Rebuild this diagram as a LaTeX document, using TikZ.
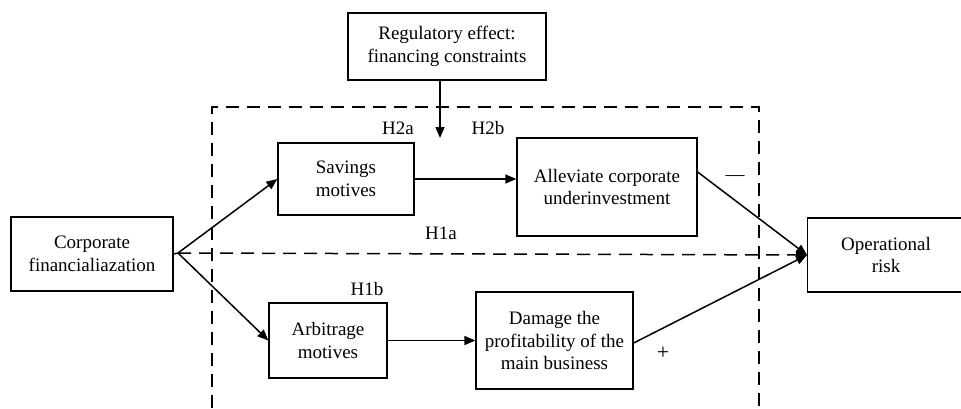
\documentclass[tikz,border=0pt]{standalone}
\usepackage{fontspec}
\setmainfont{Liberation Serif}
\usetikzlibrary{arrows.meta}
\begin{document}
\begin{tikzpicture}[x=1pt,y=-1pt,
  box/.style={draw,line width=1.3pt,align=center,font=\fontsize{19}{22.5}\selectfont,inner sep=0pt},
  arr/.style={line width=1.5pt,-{Triangle[length=11pt,width=9pt]}},
  lbl/.style={font=\fontsize{19}{22}\selectfont,inner sep=0pt},
  dsh/.style={line width=1.2pt,dash pattern=on 13pt off 8pt}]
\useasboundingbox (0,0) rectangle (961,408);
% dashed frame (open at bottom)
\draw[dsh] (212,408) -- (212,107) -- (759,107) -- (759,408);
% boxes
\node[box,minimum width=198pt,minimum height=67pt] (reg) at (447,46.5) {Regulatory effect:\\financing constraints};
\node[box,minimum width=136pt,minimum height=72pt] (sav) at (346,179) {Savings\\motives};
\node[box,minimum width=180pt,minimum height=98pt] (all) at (607,187) {Alleviate corporate\\underinvestment};
\node[box,minimum width=162pt,minimum height=74pt] (cor) at (92,254) {Corporate\\financialiazation};
\node[box,minimum width=118pt,minimum height=75pt] (arb) at (328,340.5) {Arbitrage\\motives};
\node[box,minimum width=157pt,minimum height=97pt] (dam) at (554.5,340.5) {Damage the\\profitability of the\\main business};
\node[box,minimum width=156pt,minimum height=74pt,anchor=west] (ope) at (807,255) {};
\node[align=center,font=\fontsize{19}{22.5}\selectfont,inner sep=0pt] (opet) at (886,255) {Operational\\risk};
% junction
\coordinate (j) at (178,253);
\coordinate (m) at (440,138);
% arrows
\draw[line width=1.5pt] (cor.east) -- (j);
\draw[arr] (j) -- (sav.west);
\draw[arr] (j) -- (arb.west);
\draw[arr] (sav.east) -- (sav.east -| all.west);
\draw[arr] (arb.east) -- (arb.east -| dam.west);
\draw[arr] (all.east |- 0,172) -- (ope.west);
\draw[arr] (dam.east |- 0,343) -- (ope.west);
\draw[arr,dash pattern=on 13pt off 8pt] (j) -- (ope.west);
\draw[arr] (reg.south -| m) -- (m);
% labels
\node[lbl] (h2a) at (398,128) {H2a};
\node[lbl] (h2b) at (488,128) {H2b};
\node[lbl] (h1a) at (441,233) {H1a};
\node[lbl] (h1b) at (367,289) {H1b};
\node[lbl,font=\fontsize{22}{22}\selectfont] (plus) at (663,353) {+};
\node[lbl] (minus) at (735,178) {---};
\end{tikzpicture}
\end{document}
